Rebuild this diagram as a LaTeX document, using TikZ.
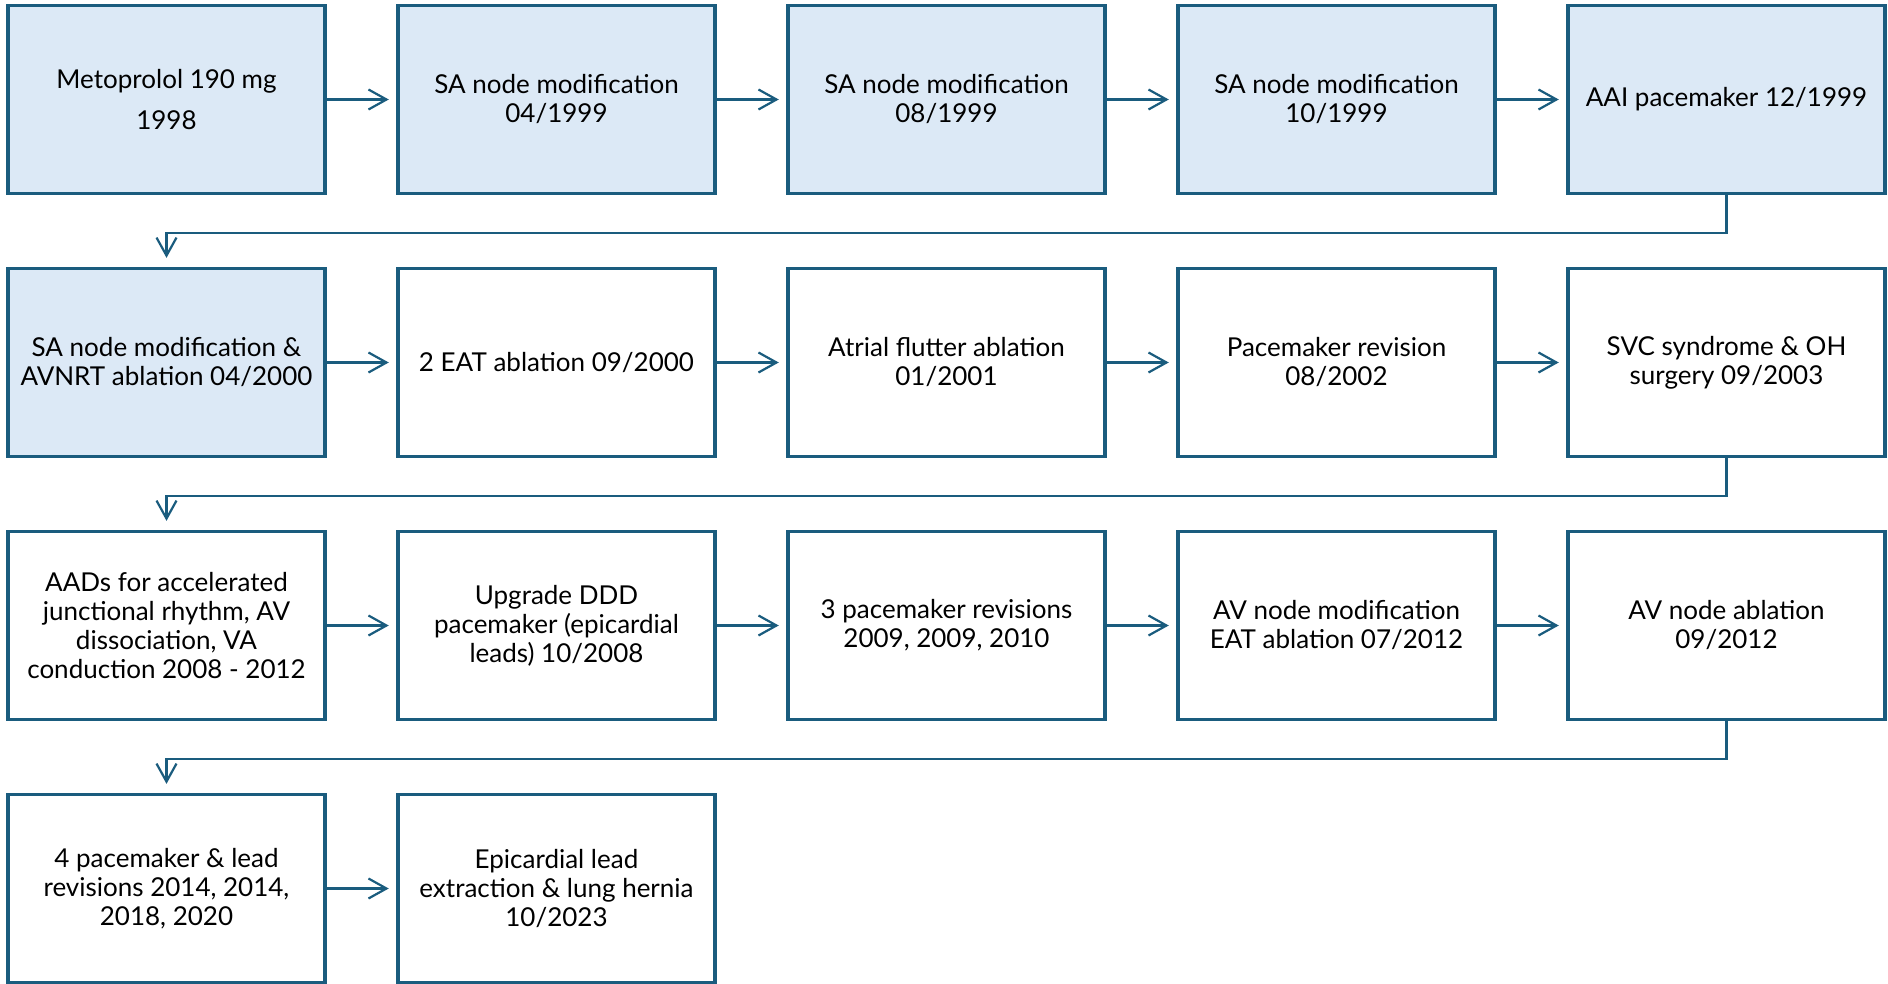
\documentclass[tikz,border=0pt]{standalone}
\usepackage{fontspec}
\setmainfont{Lato}
\usetikzlibrary{arrows.meta}
\definecolor{edge}{HTML}{1A5C7E}
\definecolor{lb}{HTML}{DCE9F6}
\begin{document}
\begin{tikzpicture}[x=0.5pt,y=-0.5pt,
  box/.style={draw=edge, line width=1.65pt, minimum width=158.5pt, minimum height=94pt,
    inner sep=2pt, align=center, font=\fontsize{13pt}{14.5pt}\selectfont, text=black},
  blue/.style={fill=lb},
  conn/.style={draw=edge, line width=1.1pt, -{Straight Barb[length=9pt,width=10pt,line width=1.1pt]}},
  hconn/.style={conn, shorten >=3.8pt},
  vconn/.style={conn, shorten >=4.5pt, rounded corners=0pt}]
\useasboundingbox (0,0) rectangle (1888,984);
% row 1
\node[box,blue] (n11) at (166.5,99.5) {Metoprolol 190 mg\\[6pt]1998};
\node[box,blue] (n12) at (556.5,99.5) {SA node modification\\04/1999};
\node[box,blue] (n13) at (946.5,99.5) {SA node modification\\08/1999};
\node[box,blue] (n14) at (1336.5,99.5) {SA node modification\\10/1999};
\node[box,blue] (n15) at (1726.5,99.5) {AAI pacemaker 12/1999};
% row 2
\node[box,blue] (n21) at (166.5,362.5) {SA node modification \&\\AVNRT ablation 04/2000};
\node[box] (n22) at (556.5,362.5) {2 EAT ablation 09/2000};
\node[box] (n23) at (946.5,362.5) {Atrial flutter ablation\\01/2001};
\node[box] (n24) at (1336.5,362.5) {Pacemaker revision\\08/2002};
\node[box] (n25) at (1726.5,362.5) {SVC syndrome \& OH\\surgery 09/2003};
% row 3
\node[box] (n31) at (166.5,625.5) {AADs for accelerated\\junctional rhythm, AV\\dissociation, VA\\conduction 2008 - 2012};
\node[box] (n32) at (556.5,625.5) {Upgrade DDD\\pacemaker (epicardial\\leads) 10/2008};
\node[box] (n33) at (946.5,625.5) {3 pacemaker revisions\\2009, 2009, 2010};
\node[box] (n34) at (1336.5,625.5) {AV node modification\\EAT ablation 07/2012};
\node[box] (n35) at (1726.5,625.5) {AV node ablation\\09/2012};
% row 4
\node[box] (n41) at (166.5,888.5) {4 pacemaker \& lead\\revisions 2014, 2014,\\2018, 2020};
\node[box] (n42) at (556.5,888.5) {Epicardial lead\\extraction \& lung hernia\\10/2023};
% horizontal connectors
\foreach \r in {1,2,3}{
  \foreach \a/\b in {1/2,2/3,3/4,4/5}{
    \draw[hconn] (n\r\a.east) -- (n\r\b.west);
  }
}
\draw[hconn] (n41.east) -- (n42.west);
% row transitions
\draw[vconn] (n15.south) -- ++(0,37.5) -| (n21.north);
\draw[vconn] (n25.south) -- ++(0,37.5) -| (n31.north);
\draw[vconn] (n35.south) -- ++(0,37.5) -| (n41.north);
\end{tikzpicture}
\end{document}
